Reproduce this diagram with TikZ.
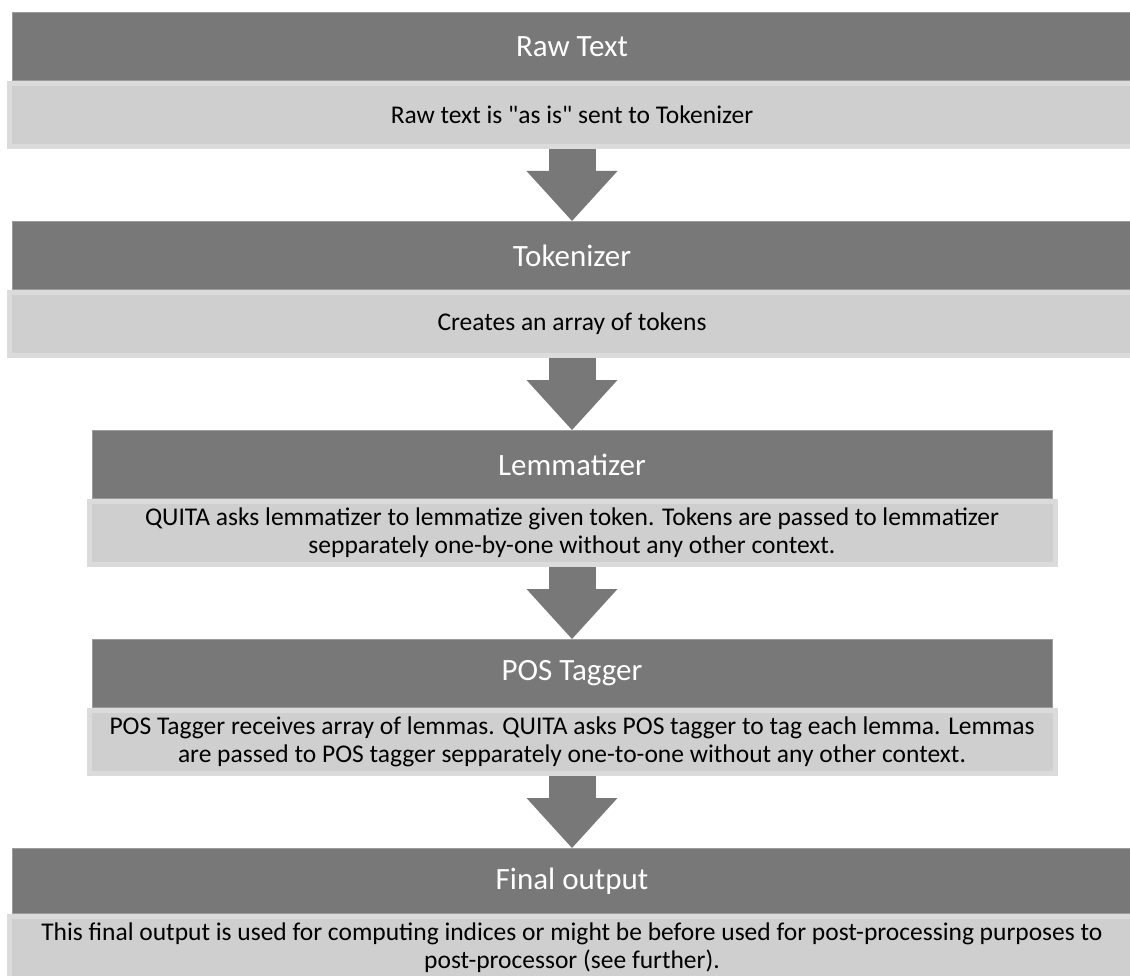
\documentclass[tikz,border=0pt]{standalone}
\usepackage{fontspec}
\setmainfont{Carlito}
\usetikzlibrary{positioning,arrows.meta}
\definecolor{hdgray}{HTML}{787878}
\definecolor{hdline}{HTML}{9C9C9C}
\definecolor{bdgray}{HTML}{CFCFCF}
\definecolor{bdline}{HTML}{DBDBDB}
\tikzset{hd/.style={rectangle, fill=hdgray, draw=hdline, line width=1pt, text=white, inner sep=0pt, minimum height=68pt, font=\fontsize{31}{36}\selectfont}}
\tikzset{bd/.style={rectangle, fill=bdgray, draw=bdline, line width=5pt, inner sep=0pt, minimum height=63pt, align=center, font=\fontsize{25.5}{28}\selectfont}}
\tikzset{flow/.style={line width=47pt, color=hdgray, -{Triangle[width=91pt, length=50pt, line width=0pt, fill=hdgray]}}}

\begin{document}
\begin{tikzpicture}[x=1pt, y=-1pt, node distance=72pt]
\useasboundingbox (0,0) rectangle (1130,976);
\node[hd, minimum width=1119pt, anchor=north] (rawhd) at (572,12) {Raw Text};
\node[bd, minimum width=1125pt][below=0pt of rawhd] (rawbd) {Raw text is \textquotedbl as is\textquotedbl\ sent to Tokenizer};
\node[hd, minimum width=1119pt][below=of rawbd] (tokhd) {Tokenizer};
\node[bd, minimum width=1125pt][below=0pt of tokhd] (tokbd) {Creates an array of tokens};
\node[hd, minimum width=960pt][below=of tokbd] (lemhd) {Lemmatizer};
\node[bd, minimum width=966pt][below=0pt of lemhd] (lembd) {QUITA asks lemmatizer to lemmatize given token. Tokens are passed to lemmatizer\\ sepparately one-by-one without any other context.};
\node[hd, minimum width=960pt][below=of lembd] (poshd) {POS Tagger};
\node[bd, minimum width=966pt][below=0pt of poshd] (posbd) {POS Tagger receives array of lemmas. QUITA asks POS tagger to tag each lemma. Lemmas\\ are passed to POS tagger sepparately one-to-one without any other context.};
\node[hd, minimum width=1119pt, minimum height=65pt][below=of posbd] (finhd) {Final output};
\node[bd, minimum width=1125pt][below=0pt of finhd] (finbd) {This final output is used for computing indices or might be before used for post-processing purposes to\\ post-processor (see further).};

\path[flow] (rawbd) edge (tokhd)
(tokbd) edge (lemhd)
(lembd) edge (poshd)
(posbd) edge (finhd)
;
\end{tikzpicture}
\end{document}
